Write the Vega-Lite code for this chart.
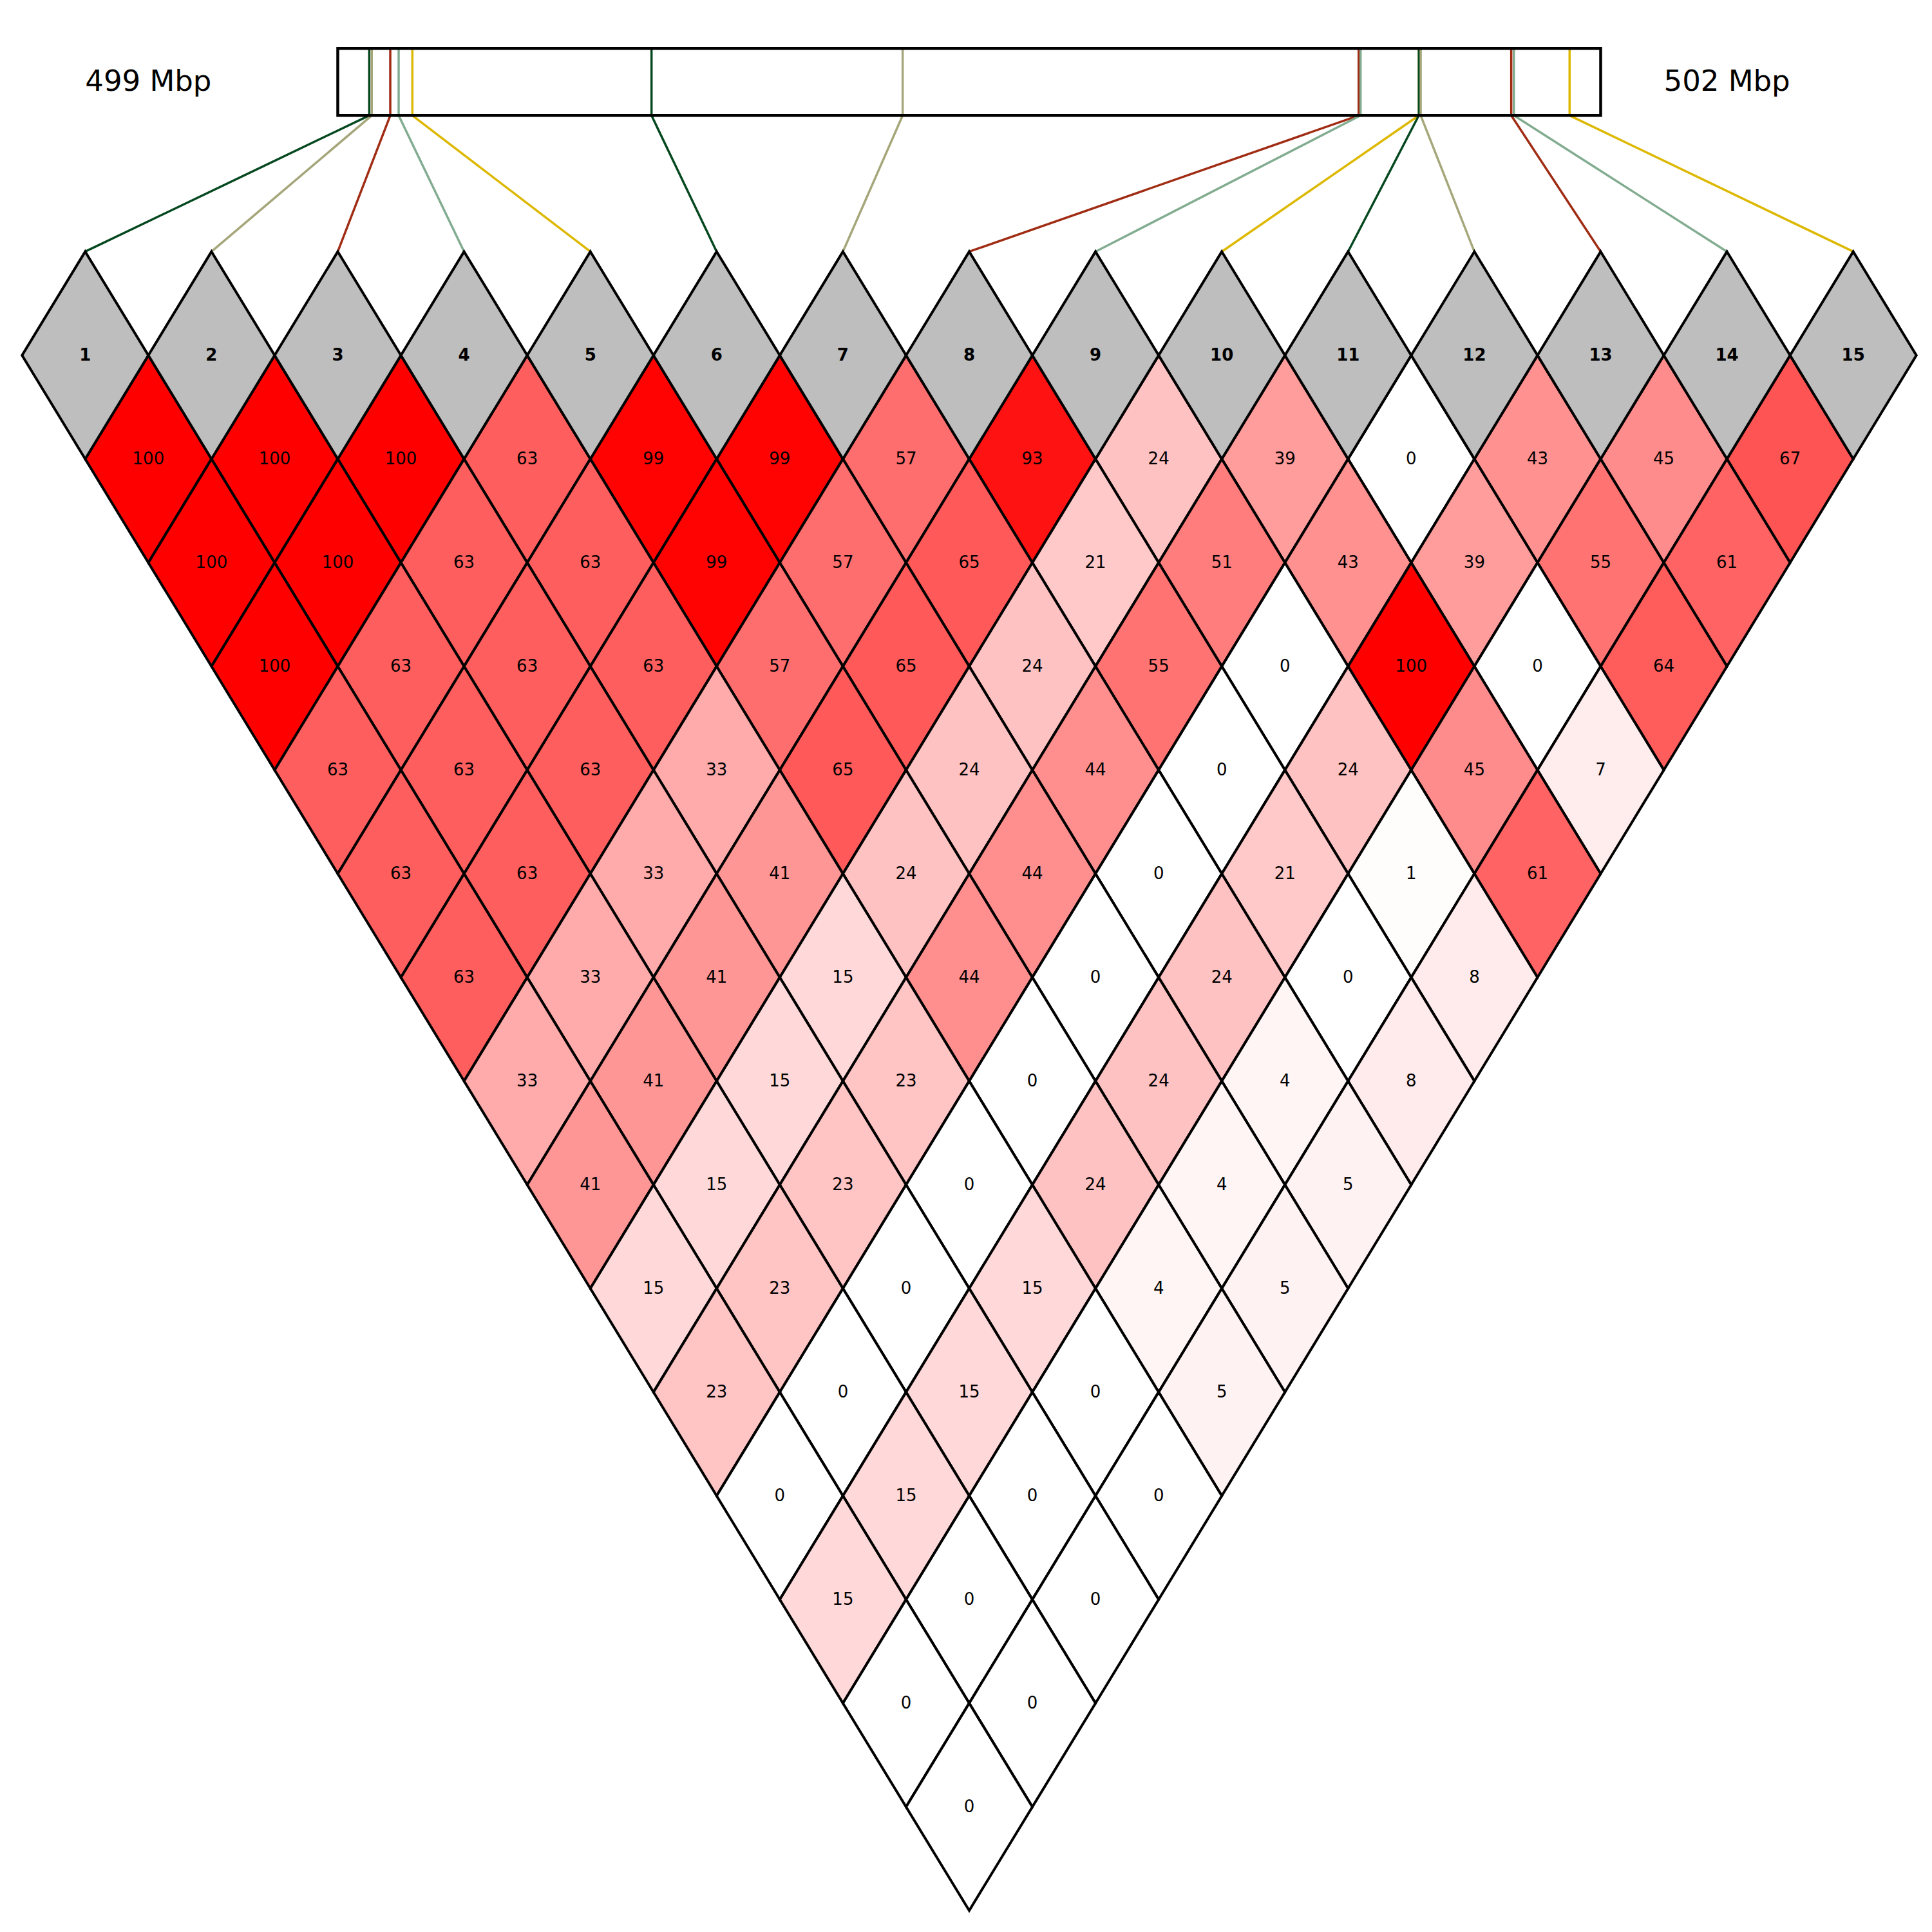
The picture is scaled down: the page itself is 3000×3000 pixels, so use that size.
{
  "$schema": "https://vega.github.io/schema/vega-lite/v6.json",
  "width": 3000,
  "height": 3000,
  "autosize": {"type": "none"},
  "padding": 0,
  "background": "white",
  "config": {"view": {"stroke": null}, "font": "DejaVu Sans"},
  "datasets": {
    "snps": [
      {"snp": 1, "pos": 499.0747}, {"snp": 2, "pos": 499.0807}, {"snp": 3, "pos": 499.1247},
      {"snp": 4, "pos": 499.1446}, {"snp": 5, "pos": 499.1772}, {"snp": 6, "pos": 499.7453},
      {"snp": 7, "pos": 500.3419}, {"snp": 8, "pos": 501.4252}, {"snp": 9, "pos": 501.4297},
      {"snp": 10, "pos": 501.5683}, {"snp": 11, "pos": 501.5681}, {"snp": 12, "pos": 501.5725},
      {"snp": 13, "pos": 501.7876}, {"snp": 14, "pos": 501.7939}, {"snp": 15, "pos": 501.9262}
    ],
    "region": [{"start": 499, "end": 502}],
    "ld": [
      {"a":1,"b":2,"r2":100},{"a":2,"b":3,"r2":100},{"a":3,"b":4,"r2":100},{"a":4,"b":5,"r2":63},{"a":5,"b":6,"r2":99},{"a":6,"b":7,"r2":99},{"a":7,"b":8,"r2":57},{"a":8,"b":9,"r2":93},{"a":9,"b":10,"r2":24},{"a":10,"b":11,"r2":39},{"a":11,"b":12,"r2":0},{"a":12,"b":13,"r2":43},{"a":13,"b":14,"r2":45},{"a":14,"b":15,"r2":67},
      {"a":1,"b":3,"r2":100},{"a":2,"b":4,"r2":100},{"a":3,"b":5,"r2":63},{"a":4,"b":6,"r2":63},{"a":5,"b":7,"r2":99},{"a":6,"b":8,"r2":57},{"a":7,"b":9,"r2":65},{"a":8,"b":10,"r2":21},{"a":9,"b":11,"r2":51},{"a":10,"b":12,"r2":43},{"a":11,"b":13,"r2":39},{"a":12,"b":14,"r2":55},{"a":13,"b":15,"r2":61},
      {"a":1,"b":4,"r2":100},{"a":2,"b":5,"r2":63},{"a":3,"b":6,"r2":63},{"a":4,"b":7,"r2":63},{"a":5,"b":8,"r2":57},{"a":6,"b":9,"r2":65},{"a":7,"b":10,"r2":24},{"a":8,"b":11,"r2":55},{"a":9,"b":12,"r2":0},{"a":10,"b":13,"r2":100},{"a":11,"b":14,"r2":0},{"a":12,"b":15,"r2":64},
      {"a":1,"b":5,"r2":63},{"a":2,"b":6,"r2":63},{"a":3,"b":7,"r2":63},{"a":4,"b":8,"r2":33},{"a":5,"b":9,"r2":65},{"a":6,"b":10,"r2":24},{"a":7,"b":11,"r2":44},{"a":8,"b":12,"r2":0},{"a":9,"b":13,"r2":24},{"a":10,"b":14,"r2":45},{"a":11,"b":15,"r2":7},
      {"a":1,"b":6,"r2":63},{"a":2,"b":7,"r2":63},{"a":3,"b":8,"r2":33},{"a":4,"b":9,"r2":41},{"a":5,"b":10,"r2":24},{"a":6,"b":11,"r2":44},{"a":7,"b":12,"r2":0},{"a":8,"b":13,"r2":21},{"a":9,"b":14,"r2":1},{"a":10,"b":15,"r2":61},
      {"a":1,"b":7,"r2":63},{"a":2,"b":8,"r2":33},{"a":3,"b":9,"r2":41},{"a":4,"b":10,"r2":15},{"a":5,"b":11,"r2":44},{"a":6,"b":12,"r2":0},{"a":7,"b":13,"r2":24},{"a":8,"b":14,"r2":0},{"a":9,"b":15,"r2":8},
      {"a":1,"b":8,"r2":33},{"a":2,"b":9,"r2":41},{"a":3,"b":10,"r2":15},{"a":4,"b":11,"r2":23},{"a":5,"b":12,"r2":0},{"a":6,"b":13,"r2":24},{"a":7,"b":14,"r2":4},{"a":8,"b":15,"r2":8},
      {"a":1,"b":9,"r2":41},{"a":2,"b":10,"r2":15},{"a":3,"b":11,"r2":23},{"a":4,"b":12,"r2":0},{"a":5,"b":13,"r2":24},{"a":6,"b":14,"r2":4},{"a":7,"b":15,"r2":5},
      {"a":1,"b":10,"r2":15},{"a":2,"b":11,"r2":23},{"a":3,"b":12,"r2":0},{"a":4,"b":13,"r2":15},{"a":5,"b":14,"r2":4},{"a":6,"b":15,"r2":5},
      {"a":1,"b":11,"r2":23},{"a":2,"b":12,"r2":0},{"a":3,"b":13,"r2":15},{"a":4,"b":14,"r2":0},{"a":5,"b":15,"r2":5},
      {"a":1,"b":12,"r2":0},{"a":2,"b":13,"r2":15},{"a":3,"b":14,"r2":0},{"a":4,"b":15,"r2":0},
      {"a":1,"b":13,"r2":15},{"a":2,"b":14,"r2":0},{"a":3,"b":15,"r2":0},
      {"a":1,"b":14,"r2":0},{"a":2,"b":15,"r2":0},
      {"a":1,"b":15,"r2":0}
    ]
  },
  "layer": [
    {
      "data": {"name": "snps"},
      "transform": [{"calculate": "3 + (datum.pos - 499) * 10 / 3", "as": "xg"}],
      "mark": {"type": "rule", "strokeWidth": 3.5},
      "encoding": {
        "x": {"field": "xg", "type": "quantitative", "scale": {"domain": [0.3253, 15.6237], "nice": false, "zero": false}, "axis": null},
        "y": {"datum": -2.959, "type": "quantitative", "scale": {"domain": [-3.4267, 15.207], "nice": false, "zero": false, "reverse": true}, "axis": null},
        "y2": {"datum": -2.313},
        "stroke": {"field": "snp", "type": "nominal", "legend": null,
          "scale": {"domain": [1,2,3,4,5,6,7,8,9,10,11,12,13,14,15],
            "range": ["#05481F","#A5A67A","#A02C14","#82AC90","#DDB800","#05481F","#A5A67A","#A02C14","#82AC90","#DDB800","#05481F","#A5A67A","#A02C14","#82AC90","#DDB800"]}}
      }
    },
    {
      "data": {"name": "snps"},
      "transform": [{"calculate": "3 + (datum.pos - 499) * 10 / 3", "as": "xg"}],
      "mark": {"type": "rule", "strokeWidth": 3.5},
      "encoding": {
        "x": {"field": "xg", "type": "quantitative", "scale": {"domain": [0.3253, 15.6237], "nice": false, "zero": false}, "axis": null},
        "x2": {"field": "snp"},
        "y": {"datum": -2.313, "type": "quantitative", "scale": {"domain": [-3.4267, 15.207], "nice": false, "zero": false, "reverse": true}, "axis": null},
        "y2": {"datum": -1},
        "stroke": {"field": "snp", "type": "nominal", "legend": null}
      }
    },
    {
      "data": {"name": "region"},
      "transform": [
        {"calculate": "3 + (datum.start - 499) * 10 / 3", "as": "xs"},
        {"calculate": "3 + (datum.end - 499) * 10 / 3", "as": "xe"}
      ],
      "mark": {"type": "rect", "fill": "white", "fillOpacity": 0, "stroke": "black", "strokeWidth": 4.5},
      "encoding": {
        "x": {"field": "xs", "type": "quantitative", "scale": {"domain": [0.3253, 15.6237], "nice": false, "zero": false}, "axis": null},
        "x2": {"field": "xe"},
        "y": {"datum": -2.959, "type": "quantitative", "scale": {"domain": [-3.4267, 15.207], "nice": false, "zero": false, "reverse": true}, "axis": null},
        "y2": {"datum": -2.313}
      }
    },
    {
      "data": {"name": "ld"},
      "transform": [
        {"calculate": "(datum.a + datum.b) / 2", "as": "cx"},
        {"calculate": "datum.b - datum.a", "as": "d"}
      ],
      "mark": {"type": "point", "shape": "M0,-1L0.609,0L0,1L-0.609,0Z", "filled": true, "opacity": 1, "fillOpacity": 1, "stroke": "black", "strokeWidth": 4, "size": 103684},
      "encoding": {
        "x": {"field": "cx", "type": "quantitative", "scale": {"domain": [0.3253, 15.6237], "nice": false, "zero": false}, "axis": null},
        "y": {"field": "d", "type": "quantitative", "scale": {"domain": [-3.4267, 15.207], "nice": false, "zero": false, "reverse": true}, "axis": null},
        "fill": {"field": "r2", "type": "quantitative", "legend": null, "scale": {"domain": [0, 100], "range": ["#FFFFFF", "#FF0000"], "interpolate": "rgb"}}
      }
    },
    {
      "data": {"name": "snps"},
      "mark": {"type": "point", "shape": "M0,-1L0.609,0L0,1L-0.609,0Z", "filled": true, "opacity": 1, "fillOpacity": 1, "fill": "#BEBEBE", "stroke": "black", "strokeWidth": 4, "size": 103684},
      "encoding": {
        "x": {"field": "snp", "type": "quantitative", "scale": {"domain": [0.3253, 15.6237], "nice": false, "zero": false}, "axis": null},
        "y": {"datum": 0, "type": "quantitative", "scale": {"domain": [-3.4267, 15.207], "nice": false, "zero": false, "reverse": true}, "axis": null}
      }
    },
    {
      "data": {"name": "ld"},
      "transform": [
        {"calculate": "(datum.a + datum.b) / 2", "as": "cx"},
        {"calculate": "datum.b - datum.a", "as": "d"}
      ],
      "mark": {"type": "text", "fontSize": 26, "color": "black", "align": "center", "baseline": "middle"},
      "encoding": {
        "x": {"field": "cx", "type": "quantitative", "scale": {"domain": [0.3253, 15.6237], "nice": false, "zero": false}, "axis": null},
        "y": {"field": "d", "type": "quantitative", "scale": {"domain": [-3.4267, 15.207], "nice": false, "zero": false, "reverse": true}, "axis": null},
        "text": {"field": "r2", "type": "nominal"}
      }
    },
    {
      "data": {"name": "snps"},
      "mark": {"type": "text", "fontSize": 26, "fontWeight": "bold", "color": "black", "align": "center", "baseline": "middle"},
      "encoding": {
        "x": {"field": "snp", "type": "quantitative", "scale": {"domain": [0.3253, 15.6237], "nice": false, "zero": false}, "axis": null},
        "y": {"datum": 0, "type": "quantitative", "scale": {"domain": [-3.4267, 15.207], "nice": false, "zero": false, "reverse": true}, "axis": null},
        "text": {"field": "snp", "type": "nominal"}
      }
    },
    {
      "data": {"values": [{"label": "499 Mbp"}]},
      "mark": {"type": "text", "fontSize": 45, "color": "black", "align": "center", "baseline": "middle"},
      "encoding": {
        "x": {"datum": 1.5, "type": "quantitative", "scale": {"domain": [0.3253, 15.6237], "nice": false, "zero": false}, "axis": null},
        "y": {"datum": -2.636, "type": "quantitative", "scale": {"domain": [-3.4267, 15.207], "nice": false, "zero": false, "reverse": true}, "axis": null},
        "text": {"field": "label", "type": "nominal"}
      }
    },
    {
      "data": {"values": [{"label": "502 Mbp"}]},
      "mark": {"type": "text", "fontSize": 45, "color": "black", "align": "center", "baseline": "middle"},
      "encoding": {
        "x": {"datum": 14, "type": "quantitative", "scale": {"domain": [0.3253, 15.6237], "nice": false, "zero": false}, "axis": null},
        "y": {"datum": -2.636, "type": "quantitative", "scale": {"domain": [-3.4267, 15.207], "nice": false, "zero": false, "reverse": true}, "axis": null},
        "text": {"field": "label", "type": "nominal"}
      }
    }
  ]
}
